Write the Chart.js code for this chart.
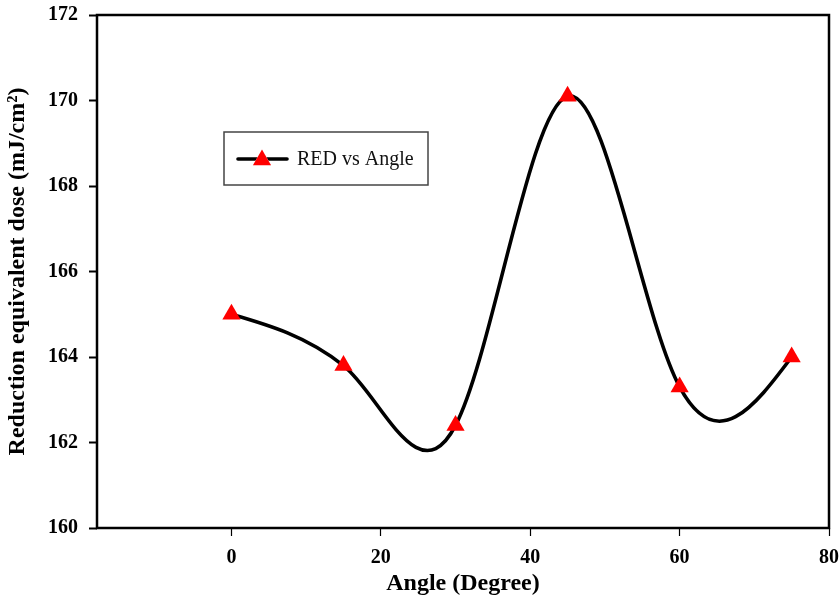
<!DOCTYPE html>
<html>
<head>
<meta charset="utf-8">
<title>RED vs Angle</title>
<script src="https://cdn.jsdelivr.net/npm/chart.js@4.4.1/dist/chart.umd.min.js"></script>
<style>
  html, body { margin: 0; padding: 0; background: #ffffff; }
  #wrap { width: 840px; height: 601px; }
</style>
</head>
<body>
<div id="wrap"><canvas id="chart" width="840" height="601"></canvas></div>
<script>
// Measured reduction equivalent dose at each lamp angle
const angles = [0, 15, 30, 45, 60, 75];
const redValues = [165.0, 163.8, 162.4, 170.1, 163.3, 164.0];
const seriesLabel = 'RED vs Angle';

// Axis ticks
const xTicks = [0, 20, 40, 60, 80];
const yTicks = [160, 162, 164, 166, 168, 170, 172];

const SERIF = "'Liberation Serif', 'Times New Roman', serif";
const CURVE_TANGENT_SCALE = 1.6;

// Slopes for a cardinal Hermite curve through (xs, ys), with
// zero-curvature end conditions
function hermiteSlopes(xs, ys, k) {
  const n = xs.length;
  const m = new Array(n).fill(0);
  for (let i = 1; i < n - 1; i++) {
    m[i] = k * (ys[i + 1] - ys[i - 1]) / (xs[i + 1] - xs[i - 1]);
  }
  if (n > 2) {
    m[0] = (3 * (ys[1] - ys[0]) / (xs[1] - xs[0]) - m[1]) / 2;
    m[n - 1] = (3 * (ys[n - 1] - ys[n - 2]) / (xs[n - 1] - xs[n - 2]) - m[n - 2]) / 2;
  } else if (n === 2) {
    m[0] = m[1] = (ys[1] - ys[0]) / (xs[1] - xs[0]);
  }
  return m;
}

// Draws the smooth curve through the dataset, converted with the chart scales
const curvePlugin = {
  id: 'smoothCurve',
  beforeDatasetsDraw(chart) {
    const xs = chart.scales.x, ys = chart.scales.y;
    const ds = chart.data.datasets[0];
    const X = ds.data.map(p => p.x), Y = ds.data.map(p => p.y);
    const m = hermiteSlopes(X, Y, CURVE_TANGENT_SCALE);
    const ctx = chart.ctx, area = chart.chartArea;
    ctx.save();
    ctx.beginPath();
    ctx.rect(area.left, area.top, area.right - area.left, area.bottom - area.top);
    ctx.clip();
    ctx.beginPath();
    ctx.moveTo(xs.getPixelForValue(X[0]), ys.getPixelForValue(Y[0]));
    for (let i = 0; i < X.length - 1; i++) {
      const h = X[i + 1] - X[i];
      ctx.bezierCurveTo(
        xs.getPixelForValue(X[i] + h / 3), ys.getPixelForValue(Y[i] + m[i] * h / 3),
        xs.getPixelForValue(X[i + 1] - h / 3), ys.getPixelForValue(Y[i + 1] - m[i + 1] * h / 3),
        xs.getPixelForValue(X[i + 1]), ys.getPixelForValue(Y[i + 1])
      );
    }
    ctx.strokeStyle = ds.borderColor;
    ctx.lineWidth = ds.borderWidth;
    ctx.lineJoin = 'round';
    ctx.lineCap = 'round';
    ctx.stroke();
    ctx.restore();
  }
};

// Closed frame around the plotting area
const framePlugin = {
  id: 'plotFrame',
  beforeDatasetsDraw(chart) {
    const { ctx, chartArea: a } = chart;
    ctx.save();
    ctx.strokeStyle = '#000';
    ctx.lineWidth = 2.5;
    ctx.strokeRect(a.left, a.top, a.right - a.left, a.bottom - a.top);
    ctx.restore();
  }
};

// Boxed legend inside the plot: line sample, marker and label
const legendBoxPlugin = {
  id: 'legendBox',
  afterDatasetsDraw(chart) {
    const { ctx, chartArea: a } = chart;
    const ds = chart.data.datasets[0];
    const bx = a.left + 127, by = a.top + 117, bw = 204, bh = 53;
    ctx.save();
    ctx.fillStyle = '#fff';
    ctx.fillRect(bx, by, bw, bh);
    ctx.strokeStyle = '#444';
    ctx.lineWidth = 1.5;
    ctx.strokeRect(bx, by, bw, bh);
    const cy = by + 27;
    ctx.beginPath();
    ctx.moveTo(bx + 14, cy);
    ctx.lineTo(bx + 63, cy);
    ctx.strokeStyle = ds.borderColor;
    ctx.lineWidth = ds.borderWidth;
    ctx.lineCap = 'round';
    ctx.stroke();
    Chart.helpers.drawPoint(ctx, {
      pointStyle: 'triangle', radius: ds.pointRadius, borderWidth: 0
    }, bx + 38, cy + 1);
    ctx.fillStyle = ds.pointBackgroundColor;
    ctx.fill();
    ctx.fillStyle = '#111';
    ctx.font = '20px ' + SERIF;
    ctx.textBaseline = 'middle';
    ctx.textAlign = 'left';
    ctx.fillText(ds.label, bx + 73, cy + 1);
    ctx.restore();
  }
};

new Chart(document.getElementById('chart'), {
  type: 'scatter',
  data: {
    datasets: [{
      label: seriesLabel,
      data: angles.map((a, i) => ({ x: a, y: redValues[i] })),
      showLine: false,
      borderColor: '#000',
      borderWidth: 3.6,
      pointStyle: 'triangle',
      pointRadius: 10.5,
      pointHoverRadius: 10.5,
      pointBackgroundColor: '#ff0000',
      pointBorderWidth: 0,
      pointBorderColor: '#ff0000'
    }]
  },
  options: {
    responsive: false,
    animation: false,
    devicePixelRatio: 1,
    layout: { padding: { left: 0, top: 15, right: 11, bottom: 0 } },
    plugins: {
      legend: { display: false },
      tooltip: { enabled: false }
    },
    scales: {
      x: {
        type: 'linear',
        min: -18,
        max: 80,
        afterBuildTicks: s => { s.ticks = xTicks.map(v => ({ value: v })); },
        afterFit: s => { s.height = 73; s.paddingLeft = 0; s.paddingRight = 0; },
        grid: { drawOnChartArea: false, drawTicks: true, tickLength: 8, color: '#000', tickWidth: 1.2 },
        border: { display: false },
        ticks: {
          color: '#000',
          padding: 10,
          maxRotation: 0,
          font: { family: SERIF, size: 20, weight: 'bold' }
        },
        title: {
          display: true,
          text: 'Angle (Degree)',
          color: '#000',
          padding: { top: 0, bottom: 3 },
          font: { family: SERIF, size: 24, weight: 'bold' }
        }
      },
      y: {
        type: 'linear',
        min: 160,
        max: 172,
        afterBuildTicks: s => { s.ticks = yTicks.map(v => ({ value: v })); },
        afterFit: s => { s.width = 97; s.paddingTop = 0; s.paddingBottom = 0; },
        grid: { drawOnChartArea: false, drawTicks: true, tickLength: 8, color: '#000', tickWidth: 2 },
        border: { display: false },
        ticks: {
          color: '#000',
          padding: 11,
          font: { family: SERIF, size: 20, weight: 'bold' }
        },
        title: {
          display: true,
          text: 'Reduction equivalent dose (mJ/cm²)',
          color: '#000',
          padding: { top: 3, bottom: 0 },
          font: { family: SERIF, size: 24, weight: 'bold' }
        }
      }
    }
  },
  plugins: [framePlugin, curvePlugin, legendBoxPlugin]
});
</script>
</body>
</html>
